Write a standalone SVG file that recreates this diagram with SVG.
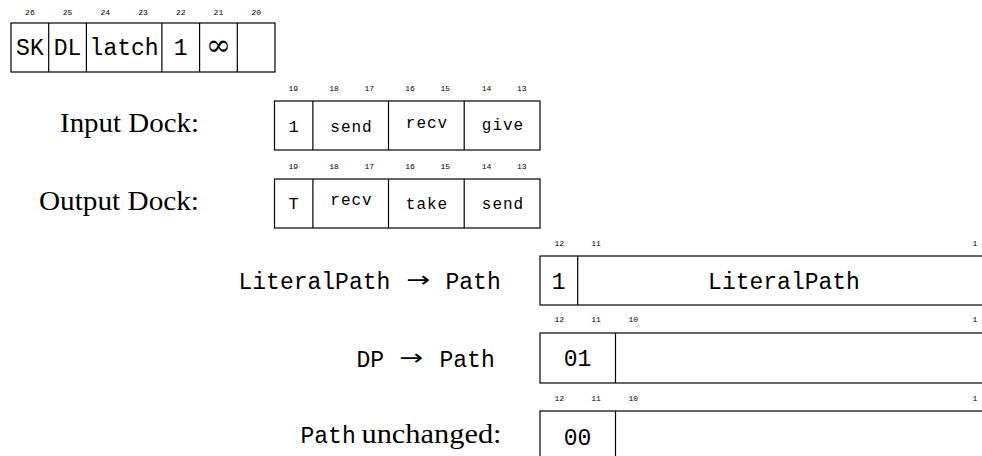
<svg xmlns="http://www.w3.org/2000/svg" width="982" height="456" viewBox="0 0 982 456">
  <style>
    .box { fill: none; stroke: #000; stroke-width: 1.2; }
    .div { stroke: #000; stroke-width: 1.2; }
    .bit { font-family: "Liberation Mono", "DejaVu Sans Mono", monospace; font-size: 8px; fill: #000; text-anchor: middle; }
    .big { font-family: "Liberation Mono", "DejaVu Sans Mono", monospace; font-size: 23px; fill: #000; text-anchor: middle; }
    .mid { font-family: "Liberation Mono", "DejaVu Sans Mono", monospace; font-size: 16px; fill: #000; text-anchor: middle; letter-spacing: 1px; }
    .one { font-family: "Liberation Mono", "DejaVu Sans Mono", monospace; font-size: 17px; fill: #000; text-anchor: middle; }
    .lbl { font-family: "Liberation Serif", "DejaVu Serif", serif; font-size: 28px; fill: #000; }
    .tt { font-family: "Liberation Mono", "DejaVu Sans Mono", monospace; font-size: 23px; fill: #000; }
    .arr { font-family: "DejaVu Sans", sans-serif; font-size: 22px; fill: #000; }
    .inf { font-family: "DejaVu Serif", "Liberation Serif", serif; font-size: 30px; fill: #000; text-anchor: middle; }
  </style>

  <!-- header word: bits 26..20 -->
  <g id="header">
    <g class="bit">
      <text x="29.9" y="15">26</text>
      <text x="67.6" y="15">25</text>
      <text x="105.3" y="15">24</text>
      <text x="143" y="15">23</text>
      <text x="180.7" y="15">22</text>
      <text x="218.4" y="15">21</text>
      <text x="256.2" y="15">20</text>
    </g>
    <rect class="box" x="11" y="23" width="264" height="49"/>
    <line class="div" x1="48.7" y1="23" x2="48.7" y2="72"/>
    <line class="div" x1="86.4" y1="23" x2="86.4" y2="72"/>
    <line class="div" x1="161.9" y1="23" x2="161.9" y2="72"/>
    <line class="div" x1="199.6" y1="23" x2="199.6" y2="72"/>
    <line class="div" x1="237.3" y1="23" x2="237.3" y2="72"/>
    <text class="big" x="29.9" y="55">SK</text>
    <text class="big" x="67.6" y="55">DL</text>
    <text class="big" x="124.1" y="55">latch</text>
    <text class="big" x="180.7" y="55">1</text>
    <text class="inf" x="218.4" y="55">∞</text>
  </g>

  <!-- input dock: bits 19..13 -->
  <g id="input-dock">
    <text class="lbl" x="60" y="132" textLength="139" lengthAdjust="spacingAndGlyphs">Input Dock:</text>
    <g class="bit">
      <text x="293.3" y="91">19</text>
      <text x="334" y="91">18</text>
      <text x="369.3" y="91">17</text>
      <text x="410" y="91">16</text>
      <text x="445.3" y="91">15</text>
      <text x="486.5" y="91">14</text>
      <text x="521.7" y="91">13</text>
    </g>
    <rect class="box" x="274.5" y="101" width="265.5" height="49"/>
    <line class="div" x1="312.9" y1="101" x2="312.9" y2="150"/>
    <line class="div" x1="388.5" y1="101" x2="388.5" y2="150"/>
    <line class="div" x1="464.2" y1="101" x2="464.2" y2="150"/>
    <text class="one" x="293.5" y="131.5">1</text>
    <text class="mid" x="351.5" y="131.5">send</text>
    <text class="mid" x="427" y="128.3">recv</text>
    <text class="mid" x="503" y="130">give</text>
  </g>

  <!-- output dock: bits 19..13 -->
  <g id="output-dock">
    <text class="lbl" x="39" y="210" textLength="160" lengthAdjust="spacingAndGlyphs">Output Dock:</text>
    <g class="bit">
      <text x="293.3" y="169">19</text>
      <text x="334" y="169">18</text>
      <text x="369.3" y="169">17</text>
      <text x="410" y="169">16</text>
      <text x="445.3" y="169">15</text>
      <text x="486.5" y="169">14</text>
      <text x="521.7" y="169">13</text>
    </g>
    <rect class="box" x="274.5" y="179" width="265.5" height="49"/>
    <line class="div" x1="312.9" y1="179" x2="312.9" y2="228"/>
    <line class="div" x1="388.5" y1="179" x2="388.5" y2="228"/>
    <line class="div" x1="464.2" y1="179" x2="464.2" y2="228"/>
    <text class="one" x="293.5" y="209.3">T</text>
    <text class="mid" x="351.5" y="205">recv</text>
    <text class="mid" x="427" y="209.3">take</text>
    <text class="mid" x="503" y="209.3">send</text>
  </g>

  <!-- path word, literal form -->
  <g id="literal-path">
    <text class="tt" x="238.5" y="289">LiteralPath</text>
    <text class="arr" x="406.5" y="287" textLength="24" lengthAdjust="spacingAndGlyphs">→</text>
    <text class="tt" x="445.5" y="289">Path</text>
    <g class="bit">
      <text x="559.3" y="246">12</text>
      <text x="596" y="246">11</text>
      <text x="975" y="246">1</text>
    </g>
    <rect class="box" x="540" y="256" width="460" height="49"/>
    <line class="div" x1="577.7" y1="256" x2="577.7" y2="305"/>
    <text class="big" x="558.7" y="288.5">1</text>
    <text class="big" x="784" y="288.5">LiteralPath</text>
  </g>

  <!-- path word, DP form -->
  <g id="dp-path">
    <text class="tt" x="356.5" y="366.5">DP</text>
    <text class="arr" x="399.5" y="364.5" textLength="24" lengthAdjust="spacingAndGlyphs">→</text>
    <text class="tt" x="439.5" y="366.5">Path</text>
    <g class="bit">
      <text x="559.3" y="322">12</text>
      <text x="596" y="322">11</text>
      <text x="633.3" y="322">10</text>
      <text x="975" y="322">1</text>
    </g>
    <rect class="box" x="540" y="333" width="460" height="50"/>
    <line class="div" x1="615.5" y1="333" x2="615.5" y2="383"/>
    <text class="big" x="577.5" y="366">01</text>
  </g>

  <!-- path word, unchanged -->
  <g id="path-unchanged">
    <text class="tt" x="300.5" y="443">Path</text>
    <text class="lbl" x="361.5" y="443" textLength="140" lengthAdjust="spacingAndGlyphs">unchanged:</text>
    <g class="bit">
      <text x="559.3" y="401">12</text>
      <text x="596" y="401">11</text>
      <text x="633.3" y="401">10</text>
      <text x="975" y="401">1</text>
    </g>
    <rect class="box" x="540" y="411" width="460" height="60"/>
    <line class="div" x1="615.5" y1="411" x2="615.5" y2="471"/>
    <text class="big" x="577.5" y="445">00</text>
  </g>
</svg>
